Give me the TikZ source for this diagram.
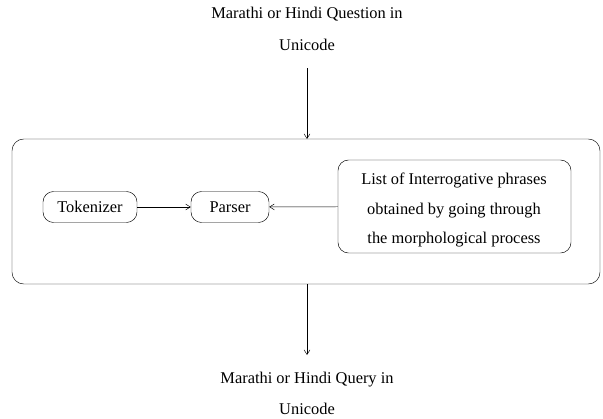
\documentclass[tikz,border=0pt]{standalone}
\usepackage{fontspec}
\setmainfont{Liberation Serif}
\usetikzlibrary{arrows.meta}

\begin{document}
\begin{tikzpicture}[x=0.03cm,y=-0.03cm,font=\fontsize{14}{16}\selectfont,
    blk/.style={draw,rounded corners=9pt,inner sep=2pt,minimum height=31*0.03cm},
    lbl/.style={align=center,inner sep=0pt},
    >={Straight Barb[length=4pt,width=5pt]}]
  \useasboundingbox (0,0) rectangle (603,419);
  \draw[rounded corners=10pt] (12,139) rectangle (600,284);
  \coordinate (boxtop) at (307,139);
  \coordinate (boxbot) at (307,284);

  \node[lbl] (qin) at (307,14) {Marathi or Hindi Question in};
  \node[lbl] (qin2) at (307,45) {Unicode};
  \node[lbl] (qout) at (307,380) {Marathi or Hindi Query in};
  \node[lbl] (qout2) at (307,409) {Unicode};
  \coordinate (tin) at (307,68);
  \coordinate (tout) at (307,355);

  \node[blk,minimum width=94*0.03cm] (tok) at (90,207) {Tokenizer};
  \node[blk,minimum width=78*0.03cm] (parser) at (230,207) {Parser};
  \node[draw,rounded corners=9pt,minimum width=233*0.03cm,minimum height=93*0.03cm]
    (list) at (454.5,206.5) {};
  \node[lbl] (l1) at (454,180) {List of Interrogative phrases};
  \node[lbl] (l2) at (454,211) {obtained by going through};
  \node[lbl] (l3) at (454,240) {the morphological process};

  \draw[->] (tin) -- (boxtop);
  \draw[->] (boxbot) -- (tout);
  \draw[->] (tok) -- (parser);
  \draw[->] (list) -- (parser);
\end{tikzpicture}
\end{document}
